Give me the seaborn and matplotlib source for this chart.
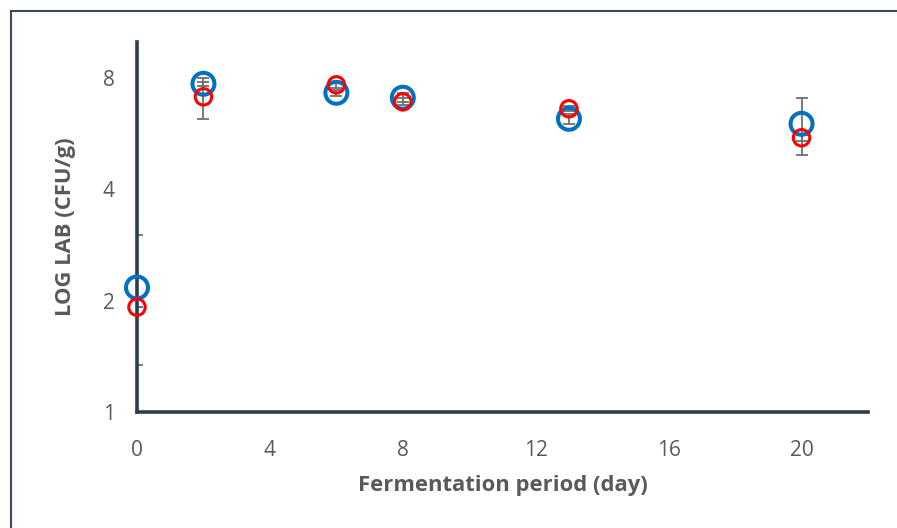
import matplotlib
matplotlib.use("Agg")
import matplotlib.pyplot as plt
import matplotlib.ticker as mticker
from matplotlib.patches import Rectangle
import seaborn as sns
import pandas as pd

# data
days = [0, 2, 6, 8, 13, 20]
lab_blue = [2.17, 7.71, 7.29, 7.07, 6.20, 6.01]
err_blue = [0.83, 0.10, 0.15, 0.20, 0.20, 1.05]
lab_red = [1.92, 7.11, 7.66, 6.89, 6.60, 5.51]
err_red = [0.00, 0.90, 0.15, 0.15, 0.10, 0.10]
y_ticks = [1, 2, 4, 8]
x_ticks = [0, 4, 8, 12, 16, 20]

df = pd.DataFrame({'day': days, 'blue': lab_blue, 'red': lab_red})

sns.set_style("white")
plt.rcParams['font.family'] = ['Open Sans', 'DejaVu Sans']

fig = plt.figure(figsize=(8.97, 5.28), dpi=100)
ax = fig.add_axes([137/897, 1 - 412/528, (868 - 137)/897, (412 - 42)/528])

# frame round the whole chart
fig.patches.append(Rectangle((11/897, -0.1), 1.2, 1 - 11/528 + 0.1, transform=fig.transFigure,
                             fill=False, edgecolor='#3d4a5c', linewidth=1.5))

ax.errorbar(days, lab_blue, yerr=err_blue, fmt='none', ecolor='#707070',
            elinewidth=1.3, capsize=4, capthick=1.3, zorder=2)
ax.errorbar(days, lab_red, yerr=err_red, fmt='none', ecolor='#707070',
            elinewidth=1.3, capsize=4, capthick=1.3, zorder=2)
sns.scatterplot(data=df, x='day', y='blue', ax=ax, marker='o', s=250,
                facecolor='none', edgecolor='#0070C0', linewidth=2.9, zorder=3, clip_on=False)
sns.scatterplot(data=df, x='day', y='red', ax=ax, marker='o', s=140,
                facecolor='none', edgecolor='#FF0000', linewidth=2.2, zorder=4, clip_on=False)

ax.set_yscale('log', base=2)
ax.set_ylim(1, 10)
ax.set_xlim(0, 22)
ax.set_yticks(y_ticks)
ax.yaxis.set_major_formatter(mticker.FuncFormatter(lambda v, p: f'{v:g}'))
ax.yaxis.set_minor_locator(mticker.NullLocator())
ax.set_xticks(x_ticks)

for side in ['top', 'right']:
    ax.spines[side].set_visible(False)
for side in ['left', 'bottom']:
    ax.spines[side].set_color('#2f3b4f')
    ax.spines[side].set_linewidth(2.6)

ax.tick_params(axis='both', direction='out', length=6, width=2.4, color='#2f3b4f',
               labelsize=15, labelcolor='#595959')
ax.tick_params(axis='y', pad=10)
ax.tick_params(axis='x', pad=14)

ax.set_xlabel('Fermentation period (day)', fontsize=15.8, fontweight='bold', color='#595959', labelpad=10)
ax.set_ylabel('LOG LAB (CFU/g)', fontsize=15.8, fontweight='bold', color='#595959', labelpad=19)

fig.savefig('out.png', dpi=100)
